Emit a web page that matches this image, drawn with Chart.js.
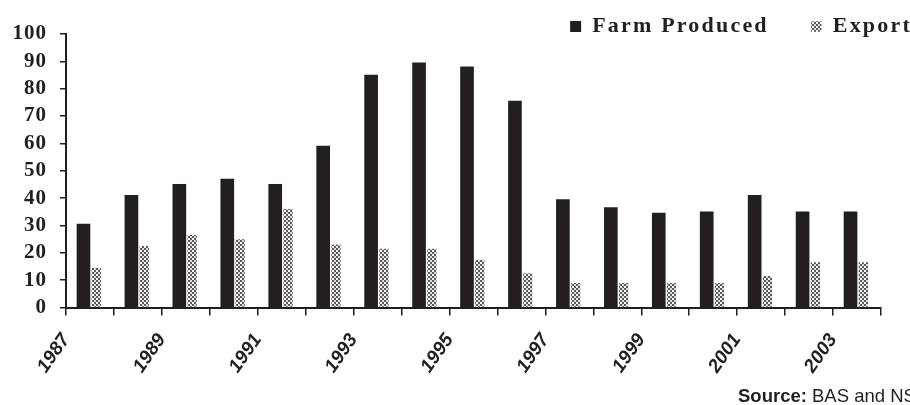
<!DOCTYPE html>
<html>
<head>
<meta charset="utf-8">
<script src="https://cdn.jsdelivr.net/npm/chart.js@4/dist/chart.umd.min.js"></script>
<style>
  html, body { margin: 0; padding: 0; background: #fff; overflow: hidden; width: 910px; height: 405px; }
  #wrap { position: absolute; left: 0; top: 0; width: 954px; height: 405px; }
  #source { position: absolute; left: 738px; top: 385px; font: 18.5px "Liberation Sans", Arial, sans-serif; line-height: 1.2; color: #231f20; white-space: nowrap; }
</style>
</head>
<body>
<div id="wrap"><canvas id="chart" width="954" height="405"></canvas></div>
<div id="source"><b>Source:</b> BAS and NSO</div>
<script>
// Data
const years = ["1987", "1988", "1989", "1990", "1991", "1992", "1993", "1994", "1995",
  "1996", "1997", "1998", "1999", "2000", "2001", "2002", "2003"];
const farmProduced = [30.5, 41, 45, 47, 45, 59, 85, 89.5, 88, 75.5, 39.5, 36.5, 34.5, 35, 41, 35, 35];
const exportVals = [14.5, 22.5, 26.5, 25, 36, 23, 21.5, 21.5, 17.5, 12.5, 9, 9, 9, 9, 11.5, 16.5, 16.5];
const yTicks = [0, 10, 20, 30, 40, 50, 60, 70, 80, 90, 100];

const ink = "#231f20";

// dotted fill for the Export series
function dotPattern() {
  const c = document.createElement("canvas");
  c.width = 4;
  c.height = 4;
  const g = c.getContext("2d");
  g.fillStyle = "#fff";
  g.fillRect(0, 0, 4, 4);
  g.fillStyle = "#5a5a5a";
  g.fillRect(0, 0, 2, 2);
  g.fillRect(2, 2, 2, 2);
  g.fillStyle = "#dcdcdc";
  g.fillRect(2, 0, 2, 2);
  return g.createPattern(c, "repeat");
}

// spaced-out serif lettering like the original; each axis gets its own spacing
const labelSpacing = { x: "0px", y: "1px" };
const spacing = {
  id: "spacing",
  beforeLayout(chart) {
    chart.ctx.letterSpacing = "2.2px";
  },
  afterLayout(chart) {
    // let the legend descenders hang below its box instead of being clipped
    chart.legend.bottom += 10;
    chart.legend.height += 10;
  },
  beforeDraw(chart) {
    chart.ctx.letterSpacing = "2.2px";
    Object.keys(labelSpacing).forEach((id) => {
      const s = chart.scales[id];
      if (s._spaced) return;
      const orig = s.drawLabels;
      s.drawLabels = function (area) {
        const ctx = this.ctx;
        const prev = ctx.letterSpacing;
        ctx.letterSpacing = labelSpacing[id];
        orig.call(this, area);
        ctx.letterSpacing = prev;
      };
      s._spaced = true;
    });
  },
};

new Chart(document.getElementById("chart"), {
  type: "bar",
  data: {
    labels: years,
    datasets: [
      {
        label: "Farm Produced",
        data: farmProduced,
        backgroundColor: ink,
        borderWidth: 0,
        barThickness: 13,
      },
      {
        label: "Export",
        data: exportVals,
        backgroundColor: dotPattern(),
        borderColor: "#fff",
        borderWidth: { left: 2 },
        borderSkipped: false,
        barThickness: 11,
      },
    ],
  },
  options: {
    responsive: false,
    animation: false,
    devicePixelRatio: 1,
    layout: { padding: { top: -26.5, left: 0, right: 0, bottom: 0 } },
    plugins: {
      legend: {
        position: "top",
        align: "end",
        maxHeight: 60.5,
        labels: {
          boxWidth: 11,
          boxHeight: 11,
          padding: 42,
          color: ink,
          font: { family: "Liberation Serif", size: 22, weight: "bold" },
        },
      },
      tooltip: { enabled: false },
    },
    scales: {
      x: {
        type: "category",
        offset: true,
        grid: {
          offset: true,
          drawOnChartArea: false,
          drawTicks: true,
          tickLength: 8,
          color: ink,
          lineWidth: 1.5,
        },
        border: { display: true, color: ink, width: 2 },
        ticks: {
          autoSkip: false,
          minRotation: 55,
          maxRotation: 55,
          padding: 14,
          labelOffset: -24,
          color: ink,
          font: { family: "Liberation Sans", size: 19, weight: "bold", style: "italic" },
          callback: (v, i) => (i % 2 === 0 ? years[i] : ""),
        },
        afterFit: (s) => { s.height = 97.5; },
      },
      y: {
        type: "linear",
        min: 0,
        max: 100,
        afterBuildTicks: (s) => { s.ticks = yTicks.map((v) => ({ value: v })); },
        grid: {
          drawOnChartArea: false,
          drawTicks: true,
          tickLength: 6,
          color: ink,
          lineWidth: 1.5,
        },
        border: { display: true, color: ink, width: 2 },
        ticks: {
          autoSkip: false,
          padding: 13,
          color: ink,
          font: { family: "Liberation Serif", size: 21, weight: "bold" },
        },
        afterFit: (s) => { s.width = 66; },
      },
      yR: {
        type: "linear",
        position: "right",
        min: 0,
        max: 1,
        grid: { display: false },
        border: { display: false },
        ticks: { display: false },
        afterFit: (s) => { s.width = 73; },
      },
    },
  },
  plugins: [spacing],
});
</script>
</body>
</html>
